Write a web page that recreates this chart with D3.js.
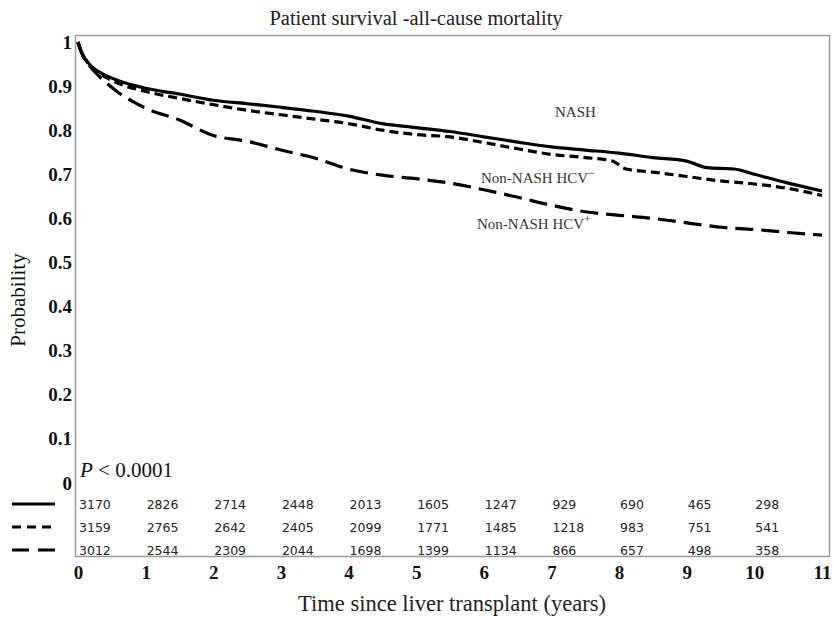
<!DOCTYPE html>
<html>
<head>
<meta charset="utf-8">
<script src="https://cdn.jsdelivr.net/npm/d3@7"></script>
<style>
  body { margin: 0; background: #fff; }
</style>
</head>
<body>
<div class="chart"></div>
<script>
// survival estimates
var timesNash = [0, 0.03, 0.08, 0.15, 0.25, 0.4, 0.6, 1, 1.5, 2, 2.5, 3, 3.5, 4, 4.5, 5, 5.5, 6, 6.5, 7, 7.5, 8, 8.5, 9, 9.3, 9.7, 10, 10.5, 11];
var survNash  = [1, 0.985, 0.968, 0.953, 0.938, 0.925, 0.912, 0.895, 0.882, 0.868, 0.86, 0.852, 0.843, 0.832, 0.815, 0.806, 0.797, 0.785, 0.773, 0.762, 0.755, 0.748, 0.738, 0.73, 0.715, 0.712, 0.70, 0.68, 0.662];

var timesNeg = [0, 0.03, 0.08, 0.15, 0.25, 0.4, 0.6, 1, 1.5, 2, 2.5, 3, 3.5, 4, 4.5, 5, 5.5, 6, 6.5, 7, 7.5, 7.9, 8.1, 8.5, 9, 9.5, 10, 10.5, 11];
var survNeg  = [1, 0.985, 0.967, 0.952, 0.936, 0.921, 0.906, 0.888, 0.872, 0.858, 0.845, 0.835, 0.825, 0.815, 0.8, 0.79, 0.785, 0.772, 0.758, 0.745, 0.738, 0.73, 0.712, 0.705, 0.695, 0.685, 0.678, 0.668, 0.652];

var timesPos = [0, 0.03, 0.08, 0.15, 0.25, 0.4, 0.6, 0.8, 1, 1.5, 2, 2.5, 3, 3.5, 4, 4.5, 5, 5.5, 6, 6.5, 7, 7.5, 8, 8.5, 9, 9.5, 10, 10.5, 11];
var survPos  = [1, 0.985, 0.966, 0.95, 0.932, 0.91, 0.885, 0.866, 0.85, 0.823, 0.788, 0.775, 0.755, 0.737, 0.712, 0.698, 0.69, 0.68, 0.665, 0.648, 0.63, 0.615, 0.607, 0.6, 0.59, 0.58, 0.575, 0.568, 0.562];

// numbers at risk
var riskYears = [0, 1, 2, 3, 4, 5, 6, 7, 8, 9, 10];
var riskNash = [3170, 2826, 2714, 2448, 2013, 1605, 1247, 929, 690, 465, 298];
var riskNeg  = [3159, 2765, 2642, 2405, 2099, 1771, 1485, 1218, 983, 751, 541];
var riskPos  = [3012, 2544, 2309, 2044, 1698, 1399, 1134, 866, 657, 498, 358];

var xTicks = [0, 1, 2, 3, 4, 5, 6, 7, 8, 9, 10, 11];
var yTicks = [0, 0.1, 0.2, 0.3, 0.4, 0.5, 0.6, 0.7, 0.8, 0.9, 1];

var width = 835, height = 617;
var serif = "'Liberation Serif', 'DejaVu Serif', serif";

var svg = d3.select(".chart").append("svg")
    .attr("width", width)
    .attr("height", height);

var x = d3.scaleLinear().domain([0, 11]).range([78, 822]);
var y = d3.scaleLinear().domain([0, 1]).range([483, 42]);

// frame
svg.append("rect")
    .attr("x", 75.5).attr("y", 35.5)
    .attr("width", 754).attr("height", 521)
    .attr("fill", "none")
    .attr("stroke", "#9a9a9a")
    .attr("stroke-width", 1.5);

// title
svg.append("text")
    .attr("x", 416).attr("y", 25)
    .attr("text-anchor", "middle")
    .style("font-family", serif)
    .style("font-size", "20.5px")
    .attr("fill", "#222")
    .text("Patient survival -all-cause mortality");

// y axis labels, no ticks
var yAxis = d3.axisLeft(y).tickValues(yTicks).tickSize(0).tickPadding(0)
    .tickFormat(function (d) { return d === 0 || d === 1 ? d3.format("d")(d) : d3.format(".1f")(d); });
var gy = svg.append("g").attr("transform", "translate(72,0)").call(yAxis);
gy.select(".domain").remove();
gy.selectAll("text")
    .style("font-family", serif)
    .style("font-size", "19px")
    .style("font-weight", "bold")
    .attr("fill", "#111");

// x axis labels
var xAxis = d3.axisBottom(x).tickValues(xTicks).tickSize(0).tickPadding(0);
var gx = svg.append("g").attr("transform", "translate(0,565)").call(xAxis);
gx.select(".domain").remove();
gx.selectAll("text")
    .style("font-family", serif)
    .style("font-size", "19px")
    .style("font-weight", "bold")
    .attr("fill", "#111");

svg.append("text")
    .attr("transform", "translate(25,300) rotate(-90)")
    .attr("text-anchor", "middle")
    .style("font-family", serif)
    .style("font-size", "21px")
    .attr("fill", "#111")
    .text("Probability");

svg.append("text")
    .attr("x", 452).attr("y", 611)
    .attr("text-anchor", "middle")
    .style("font-family", serif)
    .style("font-size", "22.5px")
    .attr("fill", "#222")
    .text("Time since liver transplant (years)");

// curves
var series = [
    { t: timesNash, s: survNash, dash: null },
    { t: timesNeg, s: survNeg, dash: "9,5" },
    { t: timesPos, s: survPos, dash: "18,8" }
];

var line = d3.line()
    .x(function (d) { return x(d[0]); })
    .y(function (d) { return y(d[1]); })
    .curve(d3.curveMonotoneX);

series.forEach(function (ser) {
    var pts = ser.t.map(function (t, i) { return [t, ser.s[i]]; });
    svg.append("path")
        .datum(pts)
        .attr("d", line)
        .attr("fill", "none")
        .attr("stroke", "#000")
        .attr("stroke-width", 3.2)
        .attr("stroke-dasharray", ser.dash);
});

// curve labels
var labelStyle = function (sel) {
    sel.style("font-family", serif).style("font-size", "15px").attr("fill", "#333");
};
svg.append("text").attr("x", 555).attr("y", 117).text("NASH").call(labelStyle);
var l2 = svg.append("text").attr("x", 481).attr("y", 183).call(labelStyle);
l2.append("tspan").text("Non-NASH HCV");
l2.append("tspan").attr("dy", -6).style("font-size", "12px").text("\u2212");
var l3 = svg.append("text").attr("x", 477).attr("y", 229).call(labelStyle);
l3.append("tspan").text("Non-NASH HCV");
l3.append("tspan").attr("dy", -6).style("font-size", "12px").text("+");

// p-value
var p = svg.append("text").attr("x", 80).attr("y", 477)
    .style("font-family", serif).style("font-size", "21px").attr("fill", "#111");
p.append("tspan").style("font-style", "italic").text("P");
p.append("tspan").text(" < 0.0001");

// numbers at risk table
var rows = [
    { vals: riskNash, dash: null, yy: 504 },
    { vals: riskNeg, dash: "9,6", yy: 527 },
    { vals: riskPos, dash: "17,9", yy: 550 }
];
rows.forEach(function (r) {
    svg.selectAll(null)
        .data(r.vals)
        .enter()
        .append("text")
        .attr("x", function (d, i) { return x(riskYears[i]) + 1; })
        .attr("y", r.yy + 5)
        .style("font-family", "'DejaVu Sans', sans-serif")
        .style("font-size", "12.5px")
        .attr("fill", "#222")
        .text(function (d) { return d; });
    svg.append("line")
        .attr("x1", 12).attr("x2", 55)
        .attr("y1", r.yy).attr("y2", r.yy)
        .attr("stroke", "#000")
        .attr("stroke-width", 3)
        .attr("stroke-dasharray", r.dash);
});
</script>
</body>
</html>
